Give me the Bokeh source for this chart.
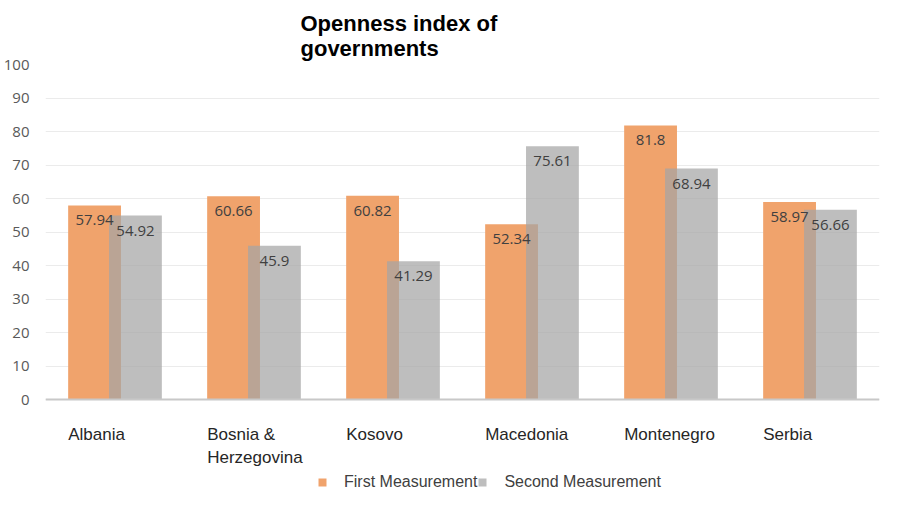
from bokeh.plotting import figure
from bokeh.models import ColumnDataSource, FactorRange, Range1d, FixedTicker, Legend, LegendItem, Span
from bokeh.core.properties import value
from bokeh.transform import dodge
from bokeh.embed import file_html
from bokeh.resources import INLINE

countries = ["Albania", "Bosnia &\nHerzegovina", "Kosovo", "Macedonia", "Montenegro", "Serbia"]
first = [57.94, 60.66, 60.82, 52.34, 81.8, 58.97]
second = [54.92, 45.9, 41.29, 75.61, 68.94, 56.66]
first_lbl = ["57.94", "60.66", "60.82", "52.34", "81.8", "58.97"]
second_lbl = ["54.92", "45.9", "41.29", "75.61", "68.94", "56.66"]
y_ticks = [0, 10, 20, 30, 40, 50, 60, 70, 80, 90, 100]

src = ColumnDataSource(dict(cat=countries, first=first, second=second,
                            flbl=first_lbl, slbl=second_lbl, base=[0] * len(countries)))

# frame extends below zero to hold the category labels and the legend
p = figure(x_range=FactorRange(*countries, range_padding=0), y_range=Range1d(-29.85, 100),
           frame_width=834, frame_height=435, output_backend="svg", toolbar_location=None,
           min_border_left=43, min_border_right=13, min_border_top=64, min_border_bottom=0)

p.title.text = "Openness index of\ngovernments"
p.title.text_font = "Liberation Sans"
p.title.text_font_size = "22px"
p.title.text_font_style = "bold"
p.title.text_color = "#000000"
p.title.align = "left"
p.title.offset = 255
p.title.standoff = 7

off = 0.147
w = 0.38
r1 = p.vbar(x=dodge("cat", -off, range=p.x_range), top="first", width=w, source=src,
            fill_color="#F0A36C", line_color=None)
r2 = p.vbar(x=dodge("cat", off, range=p.x_range), top="second", width=w, source=src,
            fill_color="#A5A5A5", fill_alpha=0.72, line_color=None)

p.text(x=dodge("cat", -off, range=p.x_range), y="first", text="flbl", source=src,
       text_align="center", text_baseline="top", y_offset=10,
       text_font=value("Open Sans"), text_font_size="15px", text_color="#404040")
p.text(x=dodge("cat", off, range=p.x_range), y="second", text="slbl", source=src,
       text_align="center", text_baseline="top", y_offset=10,
       text_font=value("Open Sans"), text_font_size="15px", text_color="#404040")

# baseline at zero
p.add_layout(Span(location=0, dimension="width", line_color="#C8C8C8", line_width=2))

# category labels under the baseline
p.text(x=dodge("cat", -off - w / 2, range=p.x_range), y="base", text="cat", source=src,
       text_align="left", text_baseline="top", y_offset=25, text_line_height=1.25,
       text_font=value("Liberation Sans"), text_font_size="17px", text_color="#262626")

p.yaxis.ticker = FixedTicker(ticks=y_ticks)
p.yaxis.axis_line_color = None
p.yaxis.major_tick_line_color = None
p.yaxis.minor_tick_line_color = None
p.yaxis.major_label_text_font = "Open Sans"
p.yaxis.major_label_text_font_size = "15px"
p.yaxis.major_label_text_color = "#595959"
p.yaxis.major_label_standoff = 10

p.xaxis.visible = False

p.xgrid.grid_line_color = None
p.ygrid.grid_line_color = "#EBEBEB"
p.ygrid.grid_line_width = 1
p.outline_line_color = None

legend = Legend(items=[LegendItem(label="First Measurement", renderers=[r1]),
                       LegendItem(label="Second Measurement", renderers=[r2])],
                orientation="horizontal", location=(272, 8))
legend.glyph_width = 10
legend.glyph_height = 10
legend.label_standoff = 17
legend.spacing = 0
legend.padding = 2
legend.margin = 0
legend.border_line_color = None
legend.background_fill_alpha = 0
legend.label_text_font = "Liberation Sans"
legend.label_text_font_size = "16px"
legend.label_text_color = "#404040"
p.add_layout(legend, "center")

open("out.html", "w").write(file_html(p, INLINE))
